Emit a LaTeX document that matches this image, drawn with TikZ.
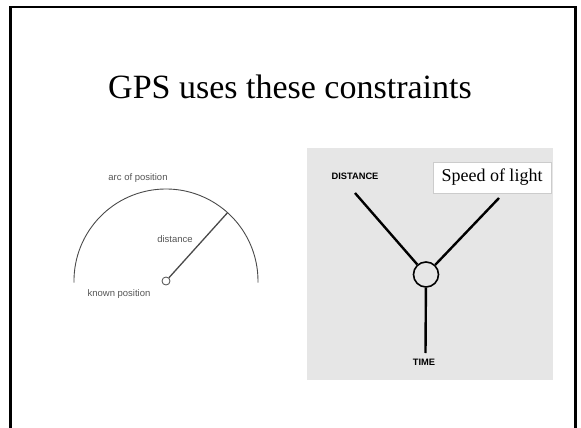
\documentclass[tikz,border=0pt]{standalone}
\usepackage{fontspec}
\setmainfont{Liberation Serif}
\setsansfont{Liberation Sans}
\usetikzlibrary{shadows}
\definecolor{panelgray}{HTML}{E6E6E6}
\definecolor{sketchgray}{HTML}{4A4A4A}
\definecolor{labelgray}{HTML}{555555}
\begin{document}
\begin{tikzpicture}[x=1pt,y=-1pt,
  smalllabel/.style={font=\sffamily\fontsize{9.5}{11}\selectfont, text=labelgray, inner sep=0pt},
  caplabel/.style={font=\sffamily\bfseries\fontsize{9.3}{11}\selectfont, inner sep=0pt},
  thickline/.style={line width=2.4pt, black},
]
\useasboundingbox (0,0) rectangle (581,428);
% slide frame
\draw[line width=2.4pt] (10.5,430) -- (10.5,7) -- (575.5,7) -- (575.5,430);
% title
\node[anchor=base, font=\fontsize{34}{40}\selectfont, inner sep=0pt] (title) at (290,99) {GPS uses these constraints};

% left diagram
\node[circle, draw=sketchgray, fill=white, line width=0.8pt, minimum size=8pt, inner sep=0pt] (kp) at (166,281) {};
\draw[sketchgray, line width=0.9pt] (74.0,282.6) arc[start angle=181, end angle=-1, radius=92pt];
\coordinate (arcpt) at (227.6,212.6);
\draw[sketchgray, line width=1.3pt] (kp) -- (arcpt);
\node[smalllabel] (arclbl) at (138,178) {arc of position};
\node[smalllabel] (distlbl) at (175,239) {distance};
\node[smalllabel] (kplbl) at (119,294) {known position};

% right diagram
\fill[panelgray] (307,148) rectangle (553,380);
\node[circle, draw, line width=1.6pt, minimum size=25pt, inner sep=0pt] (c) at (426,274.5) {};
\coordinate (dl) at (355,193);
\coordinate (dr) at (499,198);
\coordinate (db) at (425.5,353);
\draw[thickline] (c) -- (dl);
\draw[thickline] (c) -- (dr);
\draw[thickline] (c) -- (db);
\node[caplabel] (distance) at (355,176) {DISTANCE};
\node[caplabel] (time) at (424,362) {TIME};
\node[fill=white, draw=gray!40, line width=0.4pt, minimum width=118pt, minimum height=31pt, inner sep=0pt,
  font=\fontsize{18}{20}\selectfont,
  drop shadow={shadow xshift=1.2pt, shadow yshift=-1.2pt, opacity=0.35}] (speed) at (492,177.5) {Speed of light};
\end{tikzpicture}
\end{document}
